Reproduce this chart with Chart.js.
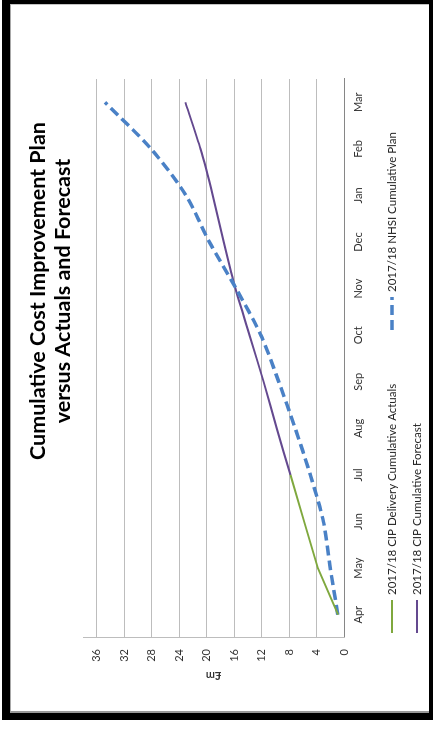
<!DOCTYPE html>
<html>
<head>
<meta charset="utf-8">
<script src="https://cdn.jsdelivr.net/npm/chart.js@4/dist/chart.umd.min.js"></script>
<style>
  html, body { margin: 0; padding: 0; background: #fff; }
  body { width: 433px; height: 730px; position: relative; overflow: hidden; }
  #frame { position: absolute; left: 2px; top: 0; width: 431px; height: 720px; background: #000; }
  #sheet { position: absolute; left: 10px; top: 4px; width: 419px; height: 709px; background: #fff;
           box-sizing: border-box; border-left: 1px solid #a8a8a8; border-top: 1px solid #c4c4c4; border-bottom: 2px solid #9a9a9a; }
  /* the chart is laid out landscape and turned a quarter turn counter-clockwise */
  #rot { position: absolute; left: 12px; top: 5px; width: 706px; height: 413px;
         transform-origin: 0 0; transform: translate(0, 706px) rotate(-90deg); }
</style>
</head>
<body>
<div id="frame"></div>
<div id="sheet"></div>
<div id="rot"><canvas id="c" width="706" height="413"></canvas></div>
<script>
const months = ['Apr', 'May', 'Jun', 'Jul', 'Aug', 'Sep', 'Oct', 'Nov', 'Dec', 'Jan', 'Feb', 'Mar'];
const actuals = [0.85, 3.8, 5.8, 7.8, null, null, null, null, null, null, null, null];
const forecast = [null, null, null, 7.8, 9.8, 11.7, 13.75, 15.8, 17.5, 19.1, 20.9, 23.1];
const plan = [0.9, 2.0, 3.0, 4.9, 7.1, 9.5, 12.1, 15.7, 19.6, 23.0, 28.1, 34.8];
const valueTicks = [0, 4, 8, 12, 16, 20, 24, 28, 32, 36];
const titleLines = ['Cumulative Cost Improvement Plan', 'versus Actuals and Forecast'];
const seriesNames = ['2017/18 CIP Delivery Cumulative Actuals', '2017/18 NHSI Cumulative Plan', '2017/18 CIP Cumulative Forecast'];

const FONT = 'Lato, "Open Sans", sans-serif';

// title drawn above the plot, a little right of centre
const titlePlugin = {
  id: 'sideTitle',
  afterDraw(chart) {
    const ctx = chart.ctx;
    ctx.save();
    ctx.font = 'bold 21.5px ' + FONT;
    ctx.fillStyle = '#000';
    ctx.textAlign = 'center';
    ctx.textBaseline = 'middle';
    titleLines.forEach((t, i) => ctx.fillText(t, 420, 26 + i * 25));
    ctx.restore();
  }
};

// two-column legend under the axis labels
const legendSlots = [
  { ds: 0, x: 78, row: 0 },
  { ds: 1, x: 381, row: 0 },
  { ds: 2, x: 78, row: 1 }
];
const legendPlugin = {
  id: 'colLegend',
  afterDraw(chart) {
    const ctx = chart.ctx;
    ctx.save();
    ctx.font = '11.5px ' + FONT;
    ctx.textBaseline = 'middle';
    ctx.textAlign = 'left';
    legendSlots.forEach(s => {
      const d = chart.data.datasets[s.ds];
      const y = 380 + s.row * 25;
      ctx.strokeStyle = d.borderColor;
      ctx.lineWidth = d.borderWidth;
      ctx.setLineDash(d.borderDash || []);
      ctx.beginPath();
      ctx.moveTo(s.x, y);
      ctx.lineTo(s.x + 33, y);
      ctx.stroke();
      ctx.setLineDash([]);
      ctx.fillStyle = '#262626';
      ctx.fillText(d.label, s.x + 38, y);
    });
    ctx.restore();
  }
};

new Chart(document.getElementById('c'), {
  type: 'line',
  data: {
    labels: months,
    datasets: [
      { label: seriesNames[0], data: actuals, borderColor: '#7FA83E', borderWidth: 2, tension: 0, pointRadius: 0 },
      { label: seriesNames[1], data: plan, borderColor: '#4A81C6', borderWidth: 3.5, borderDash: [10, 5], tension: 0.3, pointRadius: 0 },
      { label: seriesNames[2], data: forecast, borderColor: '#64498F', borderWidth: 2, tension: 0.2, pointRadius: 0 }
    ]
  },
  options: {
    responsive: false,
    animation: false,
    devicePixelRatio: 1,
    layout: { padding: { left: 20, top: 71, right: 74, bottom: 59 } },
    plugins: { legend: { display: false }, tooltip: { enabled: false }, title: { display: false } },
    scales: {
      x: {
        type: 'category',
        offset: true,
        grid: { display: false, drawTicks: false },
        border: { display: true, color: '#868686', width: 1 },
        ticks: { color: '#333', font: { family: FONT, size: 11 }, padding: 8, maxRotation: 0, autoSkip: false },
        afterFit(s) { s.height = 22; }
      },
      y: {
        min: 0,
        max: 38,
        afterBuildTicks(s) { s.ticks = valueTicks.map(v => ({ value: v })); },
        grid: { color: '#bdbdbd', drawTicks: false },
        border: { display: true, color: '#bdbdbd', width: 1 },
        ticks: { color: '#333', font: { family: FONT, size: 11 }, padding: 11 },
        title: { display: true, text: '£m', color: '#333', font: { family: FONT, size: 11, weight: 'bold' }, padding: { top: 9, bottom: 0 } },
        afterFit(s) { s.width = 53; }
      }
    }
  },
  plugins: [titlePlugin, legendPlugin]
});
</script>
</body>
</html>
